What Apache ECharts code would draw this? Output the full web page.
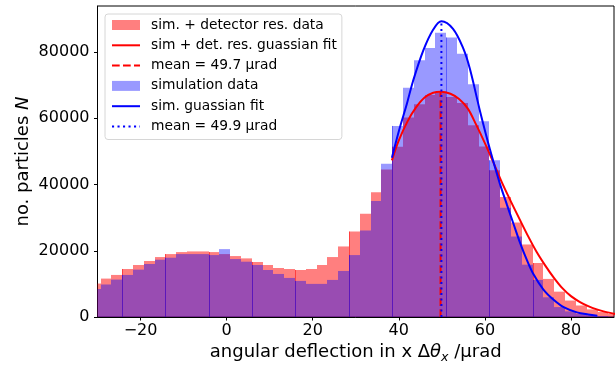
<!DOCTYPE html>
<html>
<head>
<meta charset="utf-8">
<script src="https://cdn.jsdelivr.net/npm/echarts@6/dist/echarts.min.js"></script>
<style>html,body{margin:0;padding:0;background:#fff}#c{width:615px;height:369px}</style>
</head>
<body>
<div id="c"></div>
<script>
// ---- data ----
const binEdges = [-31.80,-29.29,-26.78,-24.27,-21.76,-19.25,-16.74,-14.23,-11.72,-9.21,-6.70,-4.19,-1.68,0.83,3.34,5.85,8.36,10.87,13.38,15.89,18.40,20.91,23.42,25.93,28.44,30.95,33.46,35.97,38.48,40.99,43.50,46.01,48.52,51.03,53.54,56.05,58.56,61.07,63.58,66.09,68.60,71.11,73.62,76.13,78.64,81.15,83.66,86.17,88.68,91.19];
const redCounts = [10100,11600,12700,14500,15700,16900,18100,19000,19600,19800,19800,19600,19000,18400,17700,16600,15700,14800,14500,14200,14500,15700,18100,21300,25800,31200,37700,44500,51400,60200,64200,67000,67600,66400,64600,57900,51500,44300,36200,28500,21900,16300,11500,7650,4970,3480,2300,1500,900];
const blueCounts = [8450,9820,11300,12700,14300,16000,17300,17900,19000,19000,19000,18700,20500,17500,16700,15700,14200,13000,11800,10900,10000,10000,11200,13900,18700,26100,35000,46300,57700,69200,77500,81200,85800,84400,79500,70300,59100,47300,33000,24300,15800,11200,5950,3000,1700,900,500,300,150];
const redFitX = [38.4,40,42,44,46,48,49.7,52,54,56,58,60,62,64,66,68,70,72,74,76,78,80,82,84,86,88,90,91];
const redFitY = [47300,53300,59000,63300,66300,67700,68000,67400,65800,63000,58000,52500,46600,40500,35000,29700,24500,19700,15600,11900,8700,6300,4600,3300,2300,1550,1000,800];
const blueFitX = [38.4,40.2,41.8,43.3,45.7,48.0,49.9,52.6,55.0,56.5,58.9,61.2,63.5,65.1,66.6,68.2,69.7,71.3,73.6,75.9,78.3,81.4,84.0,86.1];
const blueFitY = [48100,57000,64000,71200,80500,86800,89300,87000,81000,75000,62000,50500,40200,34000,28300,22300,17400,12900,8300,5300,3000,1400,750,400];
const redMean = 49.7;
const blueMean = 49.9;
const xTicks = [-20,0,20,40,60,80];
const yTicks = [0,20000,40000,60000,80000];
const names = ['sim. + detector res. data','sim + det. res. guassian fit','mean = 49.7 \u03bcrad','simulation data','sim. guassian fit','mean = 49.9 \u03bcrad'];
const edgeLineBins = [3,7,11,15,19,24,28,33,37,41];

const FONT = 'DejaVu Sans';
const RED_FILL = 'rgba(255,0,0,0.5)';
const BLUE_FILL = 'rgba(0,0,255,0.4)';
const NO_SYMBOL = {color: 'rgba(0,0,0,0)', borderColor: 'rgba(0,0,0,0)', borderWidth: 0, opacity: 0};

function histData(counts){ return counts.map((c,i)=>[binEdges[i], binEdges[i+1], c, i]); }
function makeRender(fill){
  return function(params, api){
    const x0 = api.value(0), x1 = api.value(1), v = api.value(2), idx = api.value(3);
    const pTop = api.coord([x0, v]);
    const pBot = api.coord([x1, 0]);
    const cs = params.coordSys;
    const L = Math.round(pTop[0]), R = Math.round(pBot[0]);
    const rect = echarts.graphic.clipRectByRect(
      {x: L, y: pTop[1], width: R - L, height: pBot[1] - pTop[1]},
      {x: cs.x, y: cs.y, width: cs.width, height: cs.height});
    if (!rect) return null;
    const children = [{type:'rect', shape: rect, style:{fill: fill}}];
    if (edgeLineBins.indexOf(idx) >= 0) {
      children.push({type:'line', shape:{x1: L + 0.5, y1: pBot[1], x2: L + 0.5, y2: pTop[1]}, style:{stroke: fill, lineWidth: 1}});
    }
    return {type:'group', children: children};
  };
}
function pairs(xs, ys){ return xs.map((x,i)=>[x, ys[i]]); }
const minusFmt = v => (v < 0 ? '\u2212' + Math.abs(v) : String(v));

const chart = echarts.init(document.getElementById('c'), null, {renderer:'canvas'});
chart.setOption({
  animation: false,
  grid: {left: 97.5, right: 1, top: 6, bottom: 47.5, show: true, borderColor: '#000', borderWidth: 1, backgroundColor: 'transparent'},
  legend: {
    orient: 'vertical', left: 105, top: 14,
    itemWidth: 28, itemHeight: 10, itemGap: 6.3,
    padding: [4, 5, 6, 6],
    backgroundColor: 'rgba(255,255,255,0.8)', borderColor: '#d6d6d6', borderWidth: 1, borderRadius: 3,
    selectedMode: false,
    textStyle: {fontFamily: FONT, fontSize: 13.8, color: '#000', lineHeight: 14, padding: [0,0,0,6]},
    data: [
      {name: names[0], icon: 'rect'},
      {name: names[1], itemStyle: NO_SYMBOL},
      {name: names[2], itemStyle: NO_SYMBOL},
      {name: names[3], icon: 'rect'},
      {name: names[4], itemStyle: NO_SYMBOL},
      {name: names[5], itemStyle: NO_SYMBOL}
    ]
  },
  xAxis: {
    type: 'value', min: -30, max: 90,
    axisLine: {show: true, onZero: false, lineStyle: {color: '#000', width: 1}},
    axisTick: {show: true, inside: false, length: 3.5, customValues: xTicks, lineStyle: {color: '#000', width: 1}},
    axisLabel: {customValues: xTicks, formatter: minusFmt, margin: 6, fontFamily: FONT, fontSize: 16, color: '#000'},
    splitLine: {show: false},
    name: 'angular deflection in x \u0394{i|\u03b8}{sub|x} /\u03bcrad',
    nameLocation: 'middle', nameGap: 24, nameMoveOverlap: false,
    nameTextStyle: {fontFamily: FONT, fontSize: 18, color: '#000',
      rich: {i: {fontFamily: FONT, fontSize: 18, fontStyle: 'italic', color: '#000'},
             sub: {fontFamily: FONT, fontSize: 12.6, fontStyle: 'italic', color: '#000', padding: [10,0,0,0]}}}
  },
  yAxis: {
    type: 'value', min: 0, max: 93900, interval: 20000,
    axisLine: {show: true, onZero: false, lineStyle: {color: '#000', width: 1}},
    axisTick: {show: true, inside: false, length: 3.5, customValues: yTicks, lineStyle: {color: '#000', width: 1}},
    axisLabel: {customValues: yTicks, formatter: v => String(v), margin: 8, fontFamily: FONT, fontSize: 16, color: '#000'},
    splitLine: {show: false},
    name: 'no. particles {i|N}',
    nameLocation: 'middle', nameGap: 65, nameRotate: 90, nameMoveOverlap: false,
    nameTextStyle: {fontFamily: FONT, fontSize: 18, color: '#000',
      rich: {i: {fontFamily: FONT, fontSize: 18, fontStyle: 'italic', color: '#000'}}}
  },
  series: [
    {type: 'custom', name: names[0], renderItem: makeRender(RED_FILL), itemStyle: {color: RED_FILL},
     data: histData(redCounts), encode: {x: [0,1], y: 2}, silent: true},
    {type: 'custom', name: names[3], renderItem: makeRender(BLUE_FILL), itemStyle: {color: BLUE_FILL},
     data: histData(blueCounts), encode: {x: [0,1], y: 2}, silent: true},
    {type: 'line', name: names[1], data: pairs(redFitX, redFitY), smooth: 0.35, symbol: 'none', silent: true,
     lineStyle: {color: '#ff0000', width: 2}, itemStyle: {color: '#ff0000'}},
    {type: 'line', name: names[2], data: [[redMean, 0], [redMean, Math.max(...redFitY)]], symbol: 'none', silent: true,
     lineStyle: {color: '#ff0000', width: 2, type: [7.7, 3.3]}, itemStyle: {color: '#ff0000'}},
    {type: 'line', name: names[4], data: pairs(blueFitX, blueFitY), smooth: 0.35, symbol: 'none', silent: true,
     lineStyle: {color: '#0000ff', width: 2}, itemStyle: {color: '#0000ff'}},
    {type: 'line', name: names[5], data: [[blueMean, 0], [blueMean, Math.max(...blueFitY)]], symbol: 'none', silent: true,
     lineStyle: {color: '#0000ff', width: 2, type: [2.1, 3.4]}, itemStyle: {color: '#0000ff'}}
  ]
});
</script>
</body>
</html>
